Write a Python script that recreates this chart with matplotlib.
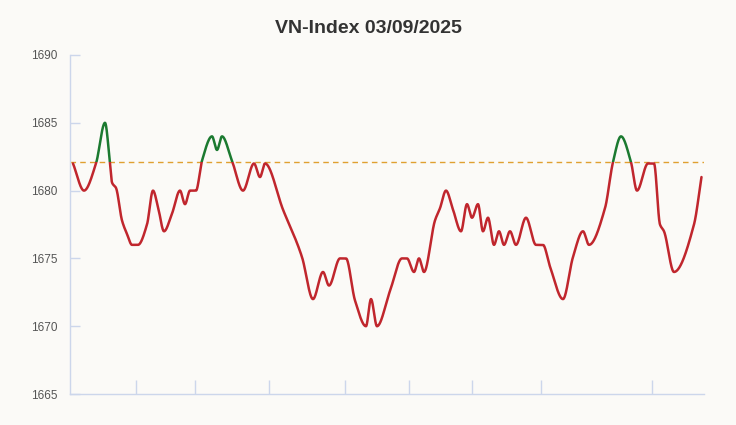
import numpy as np
import matplotlib
matplotlib.use('Agg')
import matplotlib.pyplot as plt
from matplotlib.patches import Rectangle

plt.rcParams['font.family'] = ['Liberation Sans', 'DejaVu Sans']

# 数据：时间位置（相对单位）和指数值
t = [3, 14, 26, 35, 40, 42, 46, 52, 57, 62, 68, 77, 83, 88, 94, 102, 110, 115, 120, 126,
     132, 142, 147, 152, 162, 173, 184, 190, 195, 213, 232, 243, 253, 259, 270, 276, 285, 296,
     301, 307, 320, 332, 337, 344, 349, 354, 365, 370, 376, 383, 391, 397, 402, 408, 413, 418,
     424, 429, 434, 440, 446, 456, 466, 473, 480, 493, 503, 513, 519, 535, 543, 551, 561,
     567, 578, 584, 590, 594, 604, 624, 631.5]
v = [1682, 1680, 1682, 1685, 1682, 1680.6, 1680.2, 1677.8, 1676.8, 1676, 1676, 1677.5,
     1680, 1678.8, 1677, 1678.3, 1680, 1679, 1680, 1680, 1682.2, 1684, 1683, 1684, 1682.2,
     1680, 1682, 1681, 1682, 1678.6, 1675.1, 1672, 1674, 1673, 1675, 1675, 1671.9, 1670, 1672,
     1670, 1672.6, 1675, 1675, 1674, 1675, 1674, 1677.8, 1678.7, 1680, 1678.6, 1677, 1679, 1678,
     1679, 1677, 1678, 1676, 1677, 1676, 1677, 1676, 1678, 1676, 1676, 1674.4, 1672,
     1675.1, 1677, 1676, 1678.7, 1682.1, 1684, 1682.1, 1680, 1682, 1682, 1677.5, 1677,
     1674, 1677.5, 1681]
ref = 1682.13  # 参考价
x_ticks = [66.4, 125.3, 199.3, 274.7, 338.6, 402.5, 471.5, 582.4]
y_ticks = [1665, 1670, 1675, 1680, 1685, 1690]
title = 'VN-Index 03/09/2025'


# 平滑曲线（单调三次插值，仅用于画线）
def pchip(x, y, xs):
    x = np.asarray(x, float)
    y = np.asarray(y, float)
    h = np.diff(x)
    d = np.diff(y) / h
    m = np.zeros_like(y)
    for k in range(1, len(y) - 1):
        if d[k - 1] * d[k] > 0:
            w1 = 2 * h[k] + h[k - 1]
            w2 = h[k] + 2 * h[k - 1]
            m[k] = (w1 + w2) / (w1 / d[k - 1] + w2 / d[k])
    m[0] = d[0]
    m[-1] = d[-1]
    idx = np.clip(np.searchsorted(x, xs) - 1, 0, len(x) - 2)
    hh = h[idx]
    s = (xs - x[idx]) / hh
    h00 = 2 * s**3 - 3 * s**2 + 1
    h10 = s**3 - 2 * s**2 + s
    h01 = -2 * s**3 + 3 * s**2
    h11 = s**3 - s**2
    return h00 * y[idx] + h10 * hh * m[idx] + h01 * y[idx + 1] + h11 * hh * m[idx + 1]


xs = np.linspace(t[0], t[-1], 3000)
ys = pchip(t, v, xs)

bg = '#fbfaf7'
fig = plt.figure(figsize=(7.36, 4.25), dpi=100, facecolor=bg)
ax = fig.add_axes([0.0951, 0.0729, 0.8614, 0.7977], facecolor=bg)

ax.set_xlim(0, 634)
ax.set_ylim(1665, 1690)

ax.axhline(ref, color='#e0a030', lw=1, ls=(0, (4, 3)), zorder=1)

# 红色：低于参考价；绿色：高于参考价
l_red, = ax.plot(xs, ys, color='#c0262d', lw=1.8, zorder=3, solid_capstyle='round')
l_red.set_clip_path(Rectangle((0, 1600), 634, ref - 1600, transform=ax.transData))
l_green, = ax.plot(xs, ys, color='#1b7a30', lw=1.8, zorder=3, solid_capstyle='round')
l_green.set_clip_path(Rectangle((0, ref), 634, 100, transform=ax.transData))

for s in ['top', 'right']:
    ax.spines[s].set_visible(False)
for s in ['left', 'bottom']:
    ax.spines[s].set_color('#ccd6eb')
    ax.spines[s].set_linewidth(1)

ax.set_yticks(y_ticks)
ax.set_xticks(x_ticks)
ax.set_xticklabels([])
ax.tick_params(axis='y', direction='in', length=7, width=1, color='#ccd6eb',
               labelsize=8.5, labelcolor='#555555', pad=9)
ax.tick_params(axis='x', direction='in', length=10, width=1, color='#ccd6eb')

fig.text(0.5, 0.933, title, ha='center', va='center', fontsize=14,
         fontweight='bold', color='#333333')

plt.savefig('out.png', dpi=100, facecolor=bg)
